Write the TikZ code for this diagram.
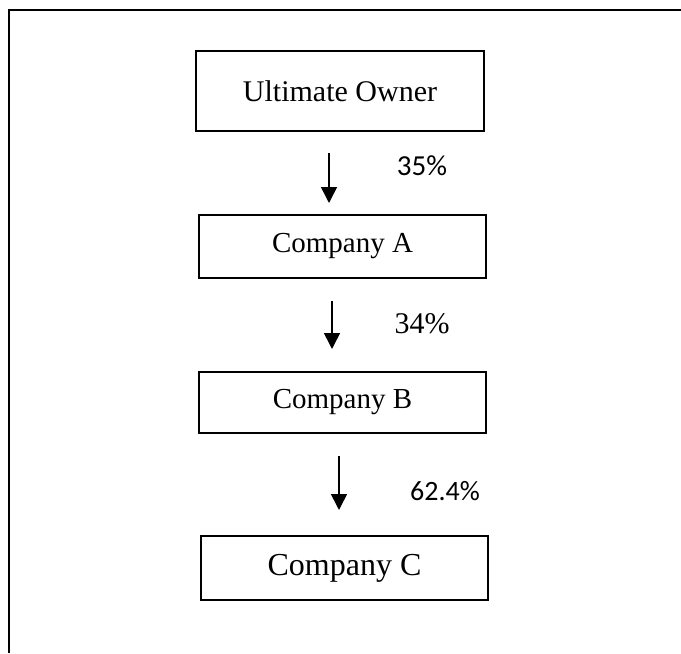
\documentclass[tikz,border=0pt]{standalone}
\usepackage{fontspec}
\setmainfont{Liberation Serif}
\newfontfamily\calibrifont{Carlito}
\usetikzlibrary{arrows.meta}
\tikzset{every edge/.style={draw, line width=1.2pt}}
\tikzset{company/.style={draw, line width=1.2pt, inner sep=0pt, minimum width=215.25pt, font=\fontsize{21.75}{26}\selectfont}}
\tikzset{share/.style={font=\calibrifont\fontsize{21.75}{26}\selectfont}}

\begin{document}
\begin{tikzpicture}[x=0.75pt, y=-0.75pt, >={Triangle[length=12pt,width=12pt]}]
    \path[use as bounding box] (0, 0) rectangle (681, 653);
    \draw[line width=1.6pt] (681, 10) -| (9, 653);

    \node[company, minimum width=216pt, minimum height=60pt, font=\fontsize{22.5}{27}\selectfont] at (340, 91) (owner) {Ultimate Owner};
    \node[company, minimum height=47pt] at (342.5, 246.5) (A) {Company A};
    \node[company, minimum height=46pt] at (342.5, 402.5) (B) {Company B};
    \node[company, minimum height=48pt, font=\fontsize{24}{28}\selectfont] at (344.5, 568) (C) {Company C};

    \coordinate (t1) at (329, 153);
    \coordinate (h1) at (329, 203);
    \coordinate (t2) at (332, 301);
    \coordinate (h2) at (332, 349);
    \coordinate (t3) at (339, 456);
    \coordinate (h3) at (339, 510);

    \draw (t1) edge[->] (h1);
    \draw (t2) edge[->] (h2);
    \draw (t3) edge[->] (h3);

    \node[share] at (422, 166) (p1) {35\%};
    \node[font=\fontsize{22.5}{27}\selectfont] at (422, 324) (p2) {34\%};
    \node[share, font=\calibrifont\fontsize{21}{25}\selectfont] at (445, 491) (p3) {62.4\%};
\end{tikzpicture}
\end{document}
